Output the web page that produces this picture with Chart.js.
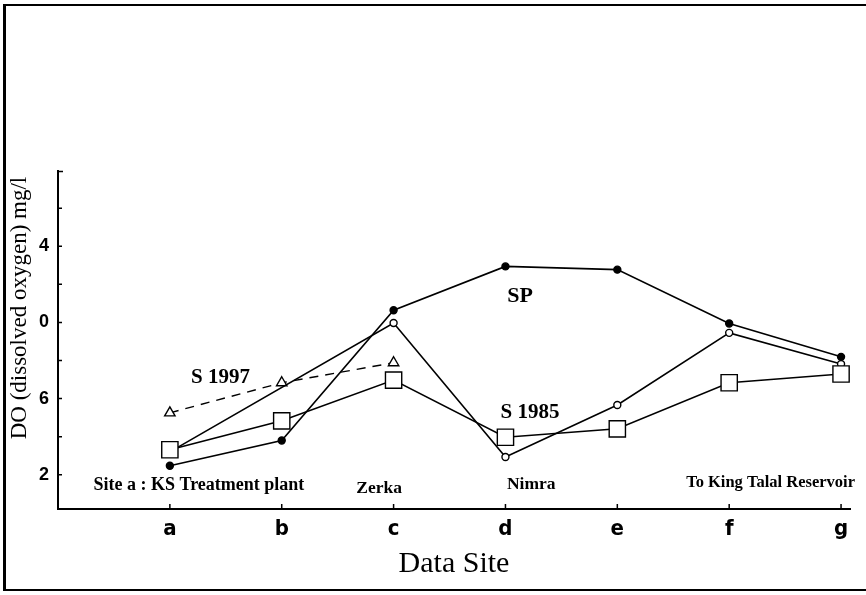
<!DOCTYPE html>
<html lang="en">
<head>
  <meta charset="UTF-8" />
  <title>DO along the river</title>
  <script src="https://cdn.jsdelivr.net/npm/chart.js"></script>
  <style>
    body {
      margin: 0;
      background: #fff;
    }

    .wrap {
      position: relative;
      width: 866px;
      height: 595px;
    }

    .frame {
      position: absolute;
      left: 3px;
      top: 4px;
      width: 866px;
      height: 587px;
      border-left: 3px solid #000;
      border-top: 2px solid #000;
      border-bottom: 2px solid #000;
      box-sizing: border-box;
      pointer-events: none;
    }
  </style>
</head>
<body>
  <div class="wrap">
    <canvas id="doChart" width="866" height="595"></canvas>
    <div class="frame"></div>
  </div>

  <script>
    // values
    const sites = ['a', 'b', 'c', 'd', 'e', 'f', 'g'];
    const sp = [2.47, 3.80, 10.64, 12.94, 12.77, 9.94, 8.19];
    const openSeries = [3.2, null, 9.97, 2.93, 5.66, 9.45, 7.81];
    const s1985 = [3.31, 4.83, 6.97, 3.97, 4.41, 6.83, 7.29];
    const s1997 = [5.25, 6.83, 7.88, null, null, null, null];

    const yTickValues = [2, 4, 6, 8, 10, 12, 14, 16];
    const yTickLabels = ['2', '', '6', '', '0', '', '4', ''];

    // text notes placed in data units
    const notes = [
      { text: 'S 1997', x: 0.19, y: 7.08, align: 'left', size: 21 },
      { text: 'SP', x: 3.13, y: 11.37, align: 'center', size: 22 },
      { text: 'S 1985', x: 3.22, y: 5.25, align: 'center', size: 21 },
      { text: 'Site a : KS Treatment plant', x: 0.26, y: 1.42, align: 'center', size: 18 },
      { text: 'Zerka', x: 1.87, y: 1.27, align: 'center', size: 17.5 },
      { text: 'Nimra', x: 3.23, y: 1.48, align: 'center', size: 17.5 },
      { text: 'To King Talal Reservoir', x: 5.37, y: 1.58, align: 'center', size: 16.5 }
    ];

    const toPoints = arr => arr.map((v, i) => ({ x: i, y: v }));

    const extras = {
      id: 'extras',
      afterDraw(chart) {
        const ctx = chart.ctx;
        const xs = chart.scales.x;
        const ys = chart.scales.y;
        const area = chart.chartArea;
        ctx.save();
        ctx.strokeStyle = '#000';
        ctx.lineWidth = 1.5;
        // inside tick marks
        ctx.beginPath();
        yTickValues.forEach(v => {
          const py = ys.getPixelForValue(v);
          ctx.moveTo(area.left, py);
          ctx.lineTo(area.left + 4, py);
        });
        ctx.moveTo(area.left, area.top + 0.5);
        ctx.lineTo(area.left + 5, area.top + 0.5);
        sites.forEach((s, i) => {
          const px = xs.getPixelForValue(i);
          ctx.moveTo(px, area.bottom);
          ctx.lineTo(px, area.bottom - 5);
        });
        ctx.stroke();

        ctx.fillStyle = '#000';
        ctx.textBaseline = 'middle';
        notes.forEach(n => {
          ctx.font = 'bold ' + n.size + 'px "Liberation Serif", "Times New Roman", serif';
          ctx.textAlign = n.align;
          ctx.fillText(n.text, xs.getPixelForValue(n.x), ys.getPixelForValue(n.y));
        });
        ctx.restore();
      }
    };

    const base = {
      borderColor: '#000',
      borderWidth: 1.6,
      pointBorderColor: '#000',
      pointBorderWidth: 1.4,
      tension: 0,
      fill: false
    };

    new Chart(document.getElementById('doChart'), {
      type: 'line',
      data: {
        datasets: [
          Object.assign({}, base, {
            label: 'S 1985',
            data: toPoints(s1985),
            pointStyle: 'rect',
            pointRadius: 11.5,
            pointBackgroundColor: '#fff',
            order: 0
          }),
          Object.assign({}, base, {
            label: 'SP',
            data: toPoints(sp),
            pointStyle: 'circle',
            pointRadius: 3.5,
            pointBackgroundColor: '#000',
            order: 1
          }),
          Object.assign({}, base, {
            label: 'open',
            data: toPoints(openSeries),
            spanGaps: true,
            pointStyle: 'circle',
            pointRadius: 3.5,
            pointBackgroundColor: '#fff',
            order: 2
          }),
          Object.assign({}, base, {
            label: 'S 1997',
            data: toPoints(s1997),
            borderWidth: 1.4,
            borderDash: [9, 7],
            pointStyle: 'triangle',
            pointRadius: 6,
            pointBackgroundColor: '#fff',
            order: 3
          })
        ]
      },
      options: {
        responsive: false,
        animation: false,
        events: [],
        layout: { padding: { left: 8, top: 171, right: 16, bottom: 16 } },
        plugins: {
          legend: { display: false },
          tooltip: { enabled: false }
        },
        scales: {
          x: {
            type: 'linear',
            min: -1.0,
            max: 6.08,
            afterFit: s => { s.height = 70; },
            afterBuildTicks: s => { s.ticks = sites.map((_, i) => ({ value: i })); },
            grid: { display: false, drawTicks: false },
            border: { display: true, color: '#000', width: 2 },
            ticks: {
              padding: 9,
              color: '#000',
              autoSkip: false,
              maxRotation: 0,
              font: { family: '"DejaVu Sans Condensed", "Liberation Sans Narrow", sans-serif', size: 22, weight: 'bold', lineHeight: 1 },
              callback: v => sites[v]
            },
            title: {
              display: true,
              text: 'Data Site',
              color: '#000',
              padding: { top: 8, bottom: 0 },
              font: { family: '"Liberation Serif", "Times New Roman", serif', size: 30, lineHeight: 1 }
            }
          },
          y: {
            min: 0.2,
            max: 17.95,
            afterFit: s => { s.width = 50; },
            afterBuildTicks: s => { s.ticks = yTickValues.map(v => ({ value: v })); },
            grid: { display: false, drawTicks: false },
            border: { display: true, color: '#000', width: 2 },
            ticks: {
              padding: 9,
              color: '#000',
              autoSkip: false,
              font: { family: '"Liberation Sans", Arial, sans-serif', size: 18, weight: 'bold' },
              callback: v => yTickLabels[yTickValues.indexOf(v)]
            },
            title: {
              display: true,
              text: 'DO (dissolved oxygen) mg/l ',
              align: 'end',
              color: '#000',
              padding: { top: 0, bottom: 0 },
              font: { family: '"Liberation Serif", "Times New Roman", serif', size: 23, lineHeight: 1 }
            }
          }
        }
      },
      plugins: [extras]
    });
  </script>
</body>
</html>
